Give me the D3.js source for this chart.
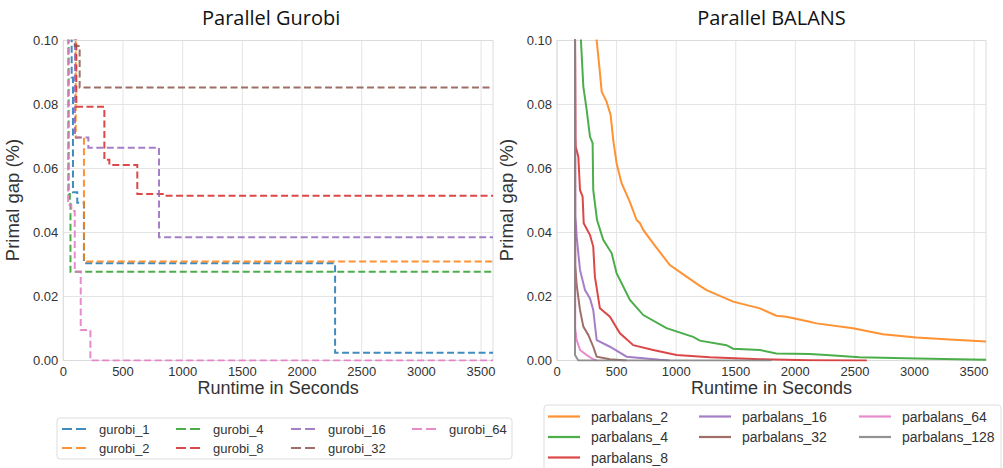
<!DOCTYPE html>
<html>
<head>
<meta charset="utf-8">
<script src="https://cdn.jsdelivr.net/npm/d3@7"></script>
<style>
  body { margin: 0; background: #fff; }
  text { font-family: "Liberation Sans", Arial, sans-serif; }
  .title { font-family: "Open Sans", sans-serif; }
</style>
</head>
<body>
<div id="chart"></div>
<script>
// ---- data: [seconds, primal gap] ----
const xTicks = [0, 500, 1000, 1500, 2000, 2500, 3000, 3500];
const yTicks = [0, 0.02, 0.04, 0.06, 0.08, 0.10];

const gurobiNames = ["gurobi_1", "gurobi_2", "gurobi_4", "gurobi_8", "gurobi_16", "gurobi_32", "gurobi_64"];
const gurobi_1  = [[30, 0.11], [70, 0.0884], [81, 0.0526], [117, 0.0493], [173, 0.0304], [2277, 0.0024], [3600, 0.0024]];
const gurobi_2  = [[25, 0.11], [104, 0.0697], [173, 0.0309], [3600, 0.0309]];
const gurobi_4  = [[15, 0.11], [45, 0.052], [55, 0.0497], [60, 0.0277], [3600, 0.0277]];
const gurobi_8  = [[50, 0.11], [109, 0.0793], [344, 0.0627], [386, 0.0611], [620, 0.052], [833, 0.0515], [3600, 0.0515]];
const gurobi_16 = [[35, 0.11], [98, 0.0697], [210, 0.0665], [802, 0.0385], [3600, 0.0385]];
const gurobi_32 = [[40, 0.11], [96, 0.0983], [137, 0.0853], [3600, 0.0853]];
const gurobi_64 = [[20, 0.11], [40, 0.0486], [67, 0.0467], [96, 0.0277], [146, 0.0095], [227, 0], [3600, 0]];

const balansNames = ["parbalans_2", "parbalans_4", "parbalans_8", "parbalans_16", "parbalans_32", "parbalans_64", "parbalans_128"];
const parbalans_2 = [[328, 0.11], [333, 0.100], [358, 0.0908], [375, 0.084], [416, 0.0809], [450, 0.0767], [472, 0.0689],
  [500, 0.0616], [542, 0.0554], [612, 0.0495], [668, 0.0439], [696, 0.0429], [724, 0.0408], [807, 0.0366], [947, 0.0298],
  [1087, 0.0262], [1199, 0.0233], [1255, 0.022], [1478, 0.0184], [1702, 0.0163], [1841, 0.0140], [1925, 0.0137],
  [2121, 0.0121], [2177, 0.0116], [2484, 0.0101], [2735, 0.0082], [3015, 0.0072], [3294, 0.0066], [3600, 0.0059]];
const parbalans_4 = [[198, 0.11], [201, 0.100], [221, 0.0856], [249, 0.0783], [277, 0.0699], [299, 0.0679], [304, 0.0533],
  [336, 0.0439], [388, 0.0377], [459, 0.0335], [500, 0.0273], [612, 0.0189], [724, 0.0142], [919, 0.0101], [1142, 0.0074],
  [1199, 0.0062], [1422, 0.0048], [1478, 0.0037], [1702, 0.0033], [1841, 0.0022], [2121, 0.0020], [2260, 0.0017],
  [2540, 0.0010], [3015, 0.0006], [3600, 0.0002]];
const parbalans_8 = [[151, 0.11], [155, 0.070], [157, 0.0668], [179, 0.0637], [193, 0.0533], [215, 0.0512], [224, 0.0429],
  [277, 0.0392], [304, 0.0356], [318, 0.0262], [360, 0.0163], [444, 0.0137], [528, 0.0085], [640, 0.0048], [807, 0.0033],
  [1003, 0.0017], [1282, 0.0010], [1702, 0.0004], [2121, 0.0001], [2600, 0]];
const parbalans_16 = [[151, 0.11], [153, 0.045], [160, 0.042], [165, 0.0387], [193, 0.0283], [235, 0.022], [277, 0.0194],
  [304, 0.0158], [333, 0.0064], [444, 0.0043], [584, 0.0012], [863, 0.0002], [947, 0]];
const parbalans_32 = [[151, 0.11], [153, 0.030], [165, 0.0236], [193, 0.0158], [221, 0.0106], [263, 0.008], [304, 0.0043],
  [333, 0.0012], [444, 0.0004], [584, 0]];
const parbalans_64 = [[151, 0.11], [153, 0.010], [165, 0.0064], [193, 0.0033], [249, 0.0017], [304, 0.0004], [333, 0]];
const parbalans_128 = [[151, 0.11], [151, 0.0017], [179, 0], [1800, 0]];

const gurobiSeries = [gurobi_1, gurobi_2, gurobi_4, gurobi_8, gurobi_16, gurobi_32, gurobi_64];
const balansSeries = [parbalans_2, parbalans_4, parbalans_8, parbalans_16, parbalans_32, parbalans_64, parbalans_128];

const gurobiColors = ["#1f77b4", "#ff7f0e", "#2ca02c", "#d62728", "#9467bd", "#8c564b", "#e377c2"];
const balansColors = ["#ff7f0e", "#2ca02c", "#d62728", "#9467bd", "#8c564b", "#e377c2", "#7f7f7f"];

// ---- layout ----
const width = 1003, height = 468;
const svg = d3.select("#chart").append("svg")
  .attr("width", width).attr("height", height);

function drawPanel(opt) {
  const x = d3.scaleLinear().domain([0, 3600]).range([opt.left, opt.right]);
  const y = d3.scaleLinear().domain([0, 0.10]).range([360.5, 40.5]);
  const g = svg.append("g");

  // grid
  g.selectAll(".gx").data(xTicks).enter().append("line")
    .attr("x1", d => x(d)).attr("x2", d => x(d))
    .attr("y1", y(0)).attr("y2", y(0.10))
    .attr("stroke", "#e4e4e4").attr("stroke-width", 1);
  g.selectAll(".gy").data(yTicks).enter().append("line")
    .attr("x1", x(0)).attr("x2", x(3600))
    .attr("y1", d => y(d)).attr("y2", d => y(d))
    .attr("stroke", "#e4e4e4").attr("stroke-width", 1);
  g.append("rect")
    .attr("x", x(0)).attr("y", y(0.10))
    .attr("width", x(3600) - x(0)).attr("height", y(0) - y(0.10))
    .attr("fill", "none").attr("stroke", "#dcdcdc");

  // tick labels
  g.selectAll(".tx").data(xTicks).enter().append("text")
    .attr("x", d => x(d)).attr("y", 376)
    .attr("text-anchor", "middle").attr("font-size", 13).attr("fill", "#333")
    .text(d => d);
  g.selectAll(".ty").data(yTicks).enter().append("text")
    .attr("x", x(0) - 5).attr("y", d => y(d) + 4.5)
    .attr("text-anchor", "end").attr("font-size", 13).attr("fill", "#333")
    .text(d => d3.format(".2f")(d));

  // labels
  g.append("text").attr("class", "title")
    .attr("x", (x(0) + x(3600)) / 2 - opt.titleShift).attr("y", 25)
    .attr("text-anchor", "middle").attr("font-size", 20).attr("fill", "#111")
    .text(opt.title);
  g.append("text")
    .attr("x", (x(0) + x(3600)) / 2).attr("y", 394)
    .attr("text-anchor", "middle").attr("font-size", 18).attr("fill", "#333")
    .text("Runtime in Seconds");
  g.append("text")
    .attr("transform", `translate(${x(0) - 44},200) rotate(-90)`)
    .attr("text-anchor", "middle").attr("font-size", 18.5).attr("fill", "#333")
    .text("Primal gap (%)");

  // series
  const clipId = "clip" + opt.id;
  svg.append("clipPath").attr("id", clipId).append("rect")
    .attr("x", x(0)).attr("y", y(0.10) - 1)
    .attr("width", x(3600) - x(0)).attr("height", y(0) - y(0.10) + 2);

  const line = d3.line().x(d => x(d[0])).y(d => y(d[1])).curve(opt.curve);
  g.append("g").attr("clip-path", `url(#${clipId})`)
    .selectAll("path").data(opt.series).enter().append("path")
    .attr("d", line)
    .attr("fill", "none")
    .attr("stroke", (d, i) => opt.colors[i])
    .attr("stroke-opacity", 0.85)
    .attr("stroke-width", 2)
    .attr("stroke-dasharray", opt.dash);

  // legend (column-major, like matplotlib: first columns get the extra rows)
  const L = opt.legend;
  const n = opt.names.length, nc = L.cols.length;
  const base = Math.floor(n / nc), extra = n % nc;
  const colSizes = d3.range(nc).map(c => base + (c < extra ? 1 : 0));
  const starts = colSizes.map((s, c) => d3.sum(colSizes.slice(0, c)));
  const place = i => {
    let c = 0;
    while (c + 1 < nc && i >= starts[c + 1]) c++;
    return [L.cols[c], L.row0 + (i - starts[c]) * L.rowStep];
  };

  const lg = svg.append("g");
  lg.append("rect")
    .attr("x", L.x).attr("y", L.y)
    .attr("width", L.w).attr("height", L.h)
    .attr("rx", 3).attr("fill", "#fff").attr("stroke", "#dddddd");
  const items = lg.selectAll(".item").data(opt.names).enter().append("g")
    .attr("transform", (d, i) => `translate(${place(i)[0]},${place(i)[1]})`);
  items.append("line")
    .attr("x1", 0).attr("x2", L.handle)
    .attr("stroke", (d, i) => opt.colors[i]).attr("stroke-opacity", 0.85)
    .attr("stroke-width", 2.2).attr("stroke-dasharray", opt.legendDash);
  items.append("text")
    .attr("x", L.textDx).attr("y", L.font * 0.36)
    .attr("font-size", L.font).attr("fill", "#333")
    .text(d => d);
}

drawPanel({
  id: "L", left: 63.3, right: 493, title: "Parallel Gurobi", titleShift: 7,
  series: gurobiSeries, names: gurobiNames, colors: gurobiColors,
  curve: d3.curveStepAfter, dash: "7,3.5", legendDash: "10,4",
  legend: { x: 57, y: 418, w: 455, h: 41, row0: 429, rowStep: 19,
            cols: [62, 176, 291, 412], handle: 24, textDx: 37, font: 13 }
});

drawPanel({
  id: "R", left: 557, right: 986, title: "Parallel BALANS", titleShift: 0,
  series: balansSeries, names: balansNames, colors: balansColors,
  curve: d3.curveLinear, dash: null, legendDash: null,
  legend: { x: 544, y: 405, w: 457, h: 70, row0: 416.5, rowStep: 20.5,
            cols: [548, 699, 859], handle: 32, textDx: 43, font: 14 }
});
</script>
</body>
</html>
